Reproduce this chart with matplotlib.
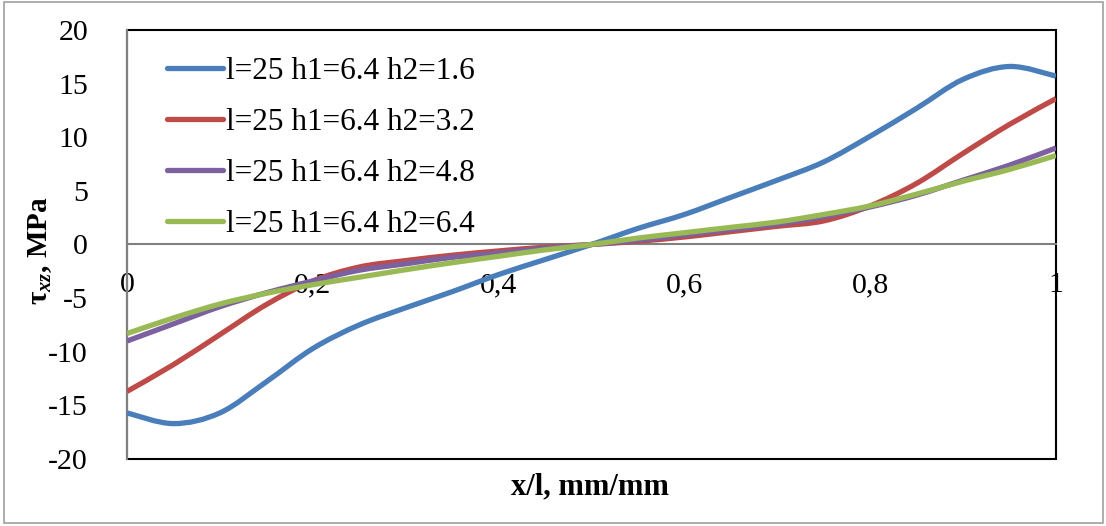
import matplotlib
matplotlib.use("Agg")
import matplotlib.pyplot as plt
import numpy as np
from matplotlib.patches import Rectangle, PathPatch
from matplotlib.path import Path
from matplotlib.lines import Line2D

# x/l positions (every 0.05)
x_pos = [0, 0.05, 0.1, 0.15, 0.2, 0.25, 0.3, 0.35, 0.4, 0.45, 0.5,
         0.55, 0.6, 0.65, 0.7, 0.75, 0.8, 0.85, 0.9, 0.95, 1.0]

# tau_xz, MPa
tau_h16 = [-15.7, -16.7, -15.7, -12.8, -9.7, -7.5, -5.9, -4.4, -2.8, -1.4, 0.0,
           1.5, 2.8, 4.4, 6.0, 7.7, 10.1, 12.7, 15.4, 16.6, 15.7]
tau_h32 = [-13.7, -11.2, -8.4, -5.6, -3.4, -2.1, -1.5, -1.0, -0.6, -0.25, 0.0,
           0.3, 0.7, 1.2, 1.7, 2.2, 3.6, 5.7, 8.5, 11.2, 13.6]
tau_h48 = [-9.0, -7.4, -5.8, -4.5, -3.4, -2.4, -1.8, -1.2, -0.8, -0.35, 0.0,
           0.4, 0.9, 1.4, 1.9, 2.6, 3.5, 4.6, 6.0, 7.4, 9.0]
tau_h64 = [-8.3, -6.85, -5.55, -4.55, -3.75, -3.05, -2.35, -1.7, -1.1, -0.5, 0.0,
           0.6, 1.1, 1.6, 2.1, 2.8, 3.6, 4.7, 5.9, 7.0, 8.3]

labels = ['l=25 h1=6.4 h2=1.6', 'l=25 h1=6.4 h2=3.2',
          'l=25 h1=6.4 h2=4.8', 'l=25 h1=6.4 h2=6.4']
colors = ['#4A7EBB', '#BE4B48', '#7D60A0', '#98B954']

x_ticks = [0, 0.2, 0.4, 0.6, 0.8, 1.0]
x_tick_labels = ['0', '0,2', '0,4', '0,6', '0,8', '1']
y_ticks = [-20, -15, -10, -5, 0, 5, 10, 15, 20]

plt.rcParams['font.family'] = 'Liberation Serif'
plt.rcParams['axes.unicode_minus'] = False
plt.rcParams['mathtext.fontset'] = 'custom'
plt.rcParams['mathtext.rm'] = 'Liberation Serif'
plt.rcParams['mathtext.bf'] = 'Liberation Serif:bold'
plt.rcParams['mathtext.it'] = 'Liberation Serif:italic'
plt.rcParams['mathtext.bfit'] = 'Liberation Serif:bold:italic'


def smooth_path(xs, ys):
    # Excel-style smoothed line: cubic Bezier through the data points
    p = np.column_stack([xs, ys]).astype(float)
    ext = np.vstack([p[0], p, p[-1]])
    verts = [p[0]]
    codes = [Path.MOVETO]
    for i in range(len(p) - 1):
        c1 = ext[i + 1] + (ext[i + 2] - ext[i]) / 6
        c2 = ext[i + 2] - (ext[i + 3] - ext[i + 1]) / 6
        verts += [c1, c2, p[i + 1]]
        codes += [Path.CURVE4] * 3
    return Path(verts, codes)


fig = plt.figure(figsize=(11.06, 5.26), dpi=100)
ax = fig.add_axes([127 / 1106, 1 - 459 / 526, 929 / 1106, 429 / 526])

# outer chart border
fig.patches.append(Rectangle((4 / 1106, 3 / 526), 1099 / 1106, 521 / 526,
                             transform=fig.transFigure, fill=False,
                             edgecolor='#A0A0A0', linewidth=1.2))

handles = []
for y, c, lab in zip([tau_h16, tau_h32, tau_h48, tau_h64], colors, labels):
    ax.add_patch(PathPatch(smooth_path(x_pos, y), facecolor='none', edgecolor=c,
                           linewidth=3.8, capstyle='butt', zorder=3))
    handles.append(Line2D([], [], color=c, linewidth=3.8, solid_capstyle='round', label=lab))

ax.set_xlim(0, 1)
ax.set_ylim(-20, 20)
ax.set_xticks(x_ticks)
ax.set_xticklabels(x_tick_labels)
ax.set_yticks(y_ticks)
ax.tick_params(axis='both', length=0, labelsize=21.5)
ax.tick_params(axis='x', pad=20)
ax.tick_params(axis='y', pad=28)

# plot area border in black, axis lines in gray
ax.add_patch(Rectangle((0, 0), 1, 1, transform=ax.transAxes, fill=False,
                       edgecolor='black', linewidth=1.5, zorder=1, clip_on=False))
for s in ['top', 'right']:
    ax.spines[s].set_visible(False)
ax.spines['bottom'].set_position(('data', 0))
ax.spines['bottom'].set_color('#808080')
ax.spines['bottom'].set_linewidth(1.5)
ax.spines['left'].set_color('#808080')
ax.spines['left'].set_linewidth(1.5)
ax.spines['left'].set_zorder(2)

ax.legend(handles=handles, loc='upper left', bbox_to_anchor=(0.043, 0.937), frameon=False,
          fontsize=22.5, handlelength=1.8, handletextpad=0.1,
          labelspacing=0.7, borderpad=0, borderaxespad=0)

fig.text(590 / 1106, 1 - 487 / 526, 'x/l, mm/mm', fontsize=22, fontweight='bold',
         ha='center', va='center')
fig.text(40 / 1106, 1 - 251 / 526, r'$\mathbf{\tau}_{\mathbfit{xz}}$, MPa',
         fontsize=21, fontweight='bold', rotation=90, ha='center', va='center')

fig.savefig('out.png', dpi=100)
